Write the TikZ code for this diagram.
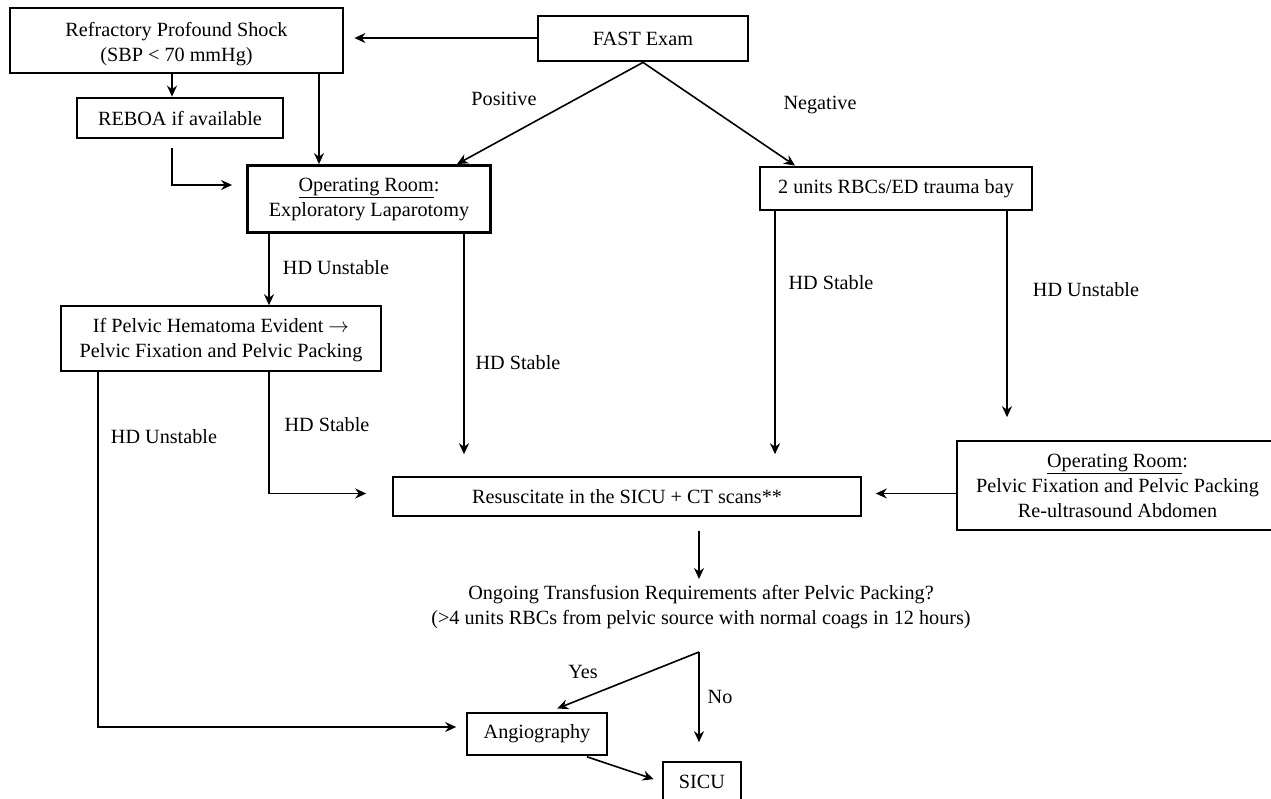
\documentclass[tikz,border=0pt]{standalone}
\usepackage{fontspec}
\setmainfont{Liberation Serif}
\usetikzlibrary{arrows.meta}
\begin{document}
\begin{tikzpicture}[x=1pt,y=-1pt,
  every node/.style={font=\fontsize{20.2}{25}\selectfont},
  thickbox/.style={draw, line width=2.8pt, align=center, inner sep=0pt},
  thinbox/.style={draw, line width=1.6pt, align=center, inner sep=0pt},
  arr/.style={-{Stealth[length=11pt,width=10pt]}, line width=1.6pt},
  lbl/.style={inner sep=0pt}]
\useasboundingbox (0,0) rectangle (1271,798);
% boxes
\node[thickbox, minimum width=333pt, minimum height=65pt] (ref) at (176.5,40.5) {\raisebox{-9pt}[0pt][0pt]{\begin{tabular}{@{}c@{}}Refractory Profound Shock\\(SBP \textless{} 70 mmHg)\end{tabular}}};
\node[thickbox, minimum width=210pt, minimum height=45pt] (fast) at (643,38.5) {FAST Exam};
\node[thickbox, minimum width=206pt, minimum height=40pt] (reboa) at (180,118) {REBOA if available};
\node[thickbox, minimum width=243pt, minimum height=67pt] (or1) at (369,199) {\underline{Operating Room}:\\Exploratory Laparotomy};
\node[thickbox, minimum width=272pt, minimum height=43pt] (rbc) at (896,188.5) {2 units RBCs/ED trauma bay};
\node[thinbox, minimum width=320pt, minimum height=65pt] (pel) at (221,338.5) {\raisebox{-6.5pt}[0pt][0pt]{\begin{tabular}{@{}c@{}}If Pelvic Hematoma Evident $\rightarrow$\\Pelvic Fixation and Pelvic Packing\end{tabular}}};
\node[thinbox, minimum width=468pt, minimum height=39pt] (res) at (627,496.5) {Resuscitate in the SICU + CT scans**};
\node[thinbox, minimum width=321pt, minimum height=89pt] (or2) at (1117.5,485.5) {\underline{Operating Room}:\\Pelvic Fixation and Pelvic Packing\\Re-ultrasound Abdomen};
\node[align=center, inner sep=0pt] (ong) at (701,607) {Ongoing Transfusion Requirements after Pelvic Packing?\\(\textgreater{}4 units RBCs from pelvic source with normal coags in 12 hours)};
\node[thinbox, minimum width=140pt, minimum height=42pt] (angio) at (537,734) {Angiography};
\node[thinbox, minimum width=78pt, minimum height=40pt] (sicu) at (702,782) {SICU};
% connectors
\draw[arr, shorten >=10pt] (fast.west |- 0,38) -- (ref.east |- 0,38);
\coordinate (r1) at ([xshift=-4.5pt]ref.south);
\draw[arr] (r1) -- (r1 |- reboa.north);
\coordinate (r2) at ([xshift=142.5pt]ref.south);
\draw[arr] (r2) -- (r2 |- or1.north);
\draw[arr, shorten <=9pt, shorten >=14pt] ([xshift=-8pt]reboa.south) |- ([yshift=14pt]or1.west);
\draw[arr] (fast.south) -- ([xshift=88pt]or1.north);
\draw[arr] (fast.south) -- ([xshift=-101pt]rbc.north);
\coordinate (o1) at ([xshift=-100pt]or1.south);
\draw[arr] (o1) -- (o1 |- pel.north);
\coordinate (o2) at ([xshift=95pt]or1.south);
\draw[arr, shorten >=22pt] (o2) -- (o2 |- res.north);
\draw[arr, shorten >=26pt] ([xshift=48pt]pel.south) |- ([yshift=3pt]res.west);
\draw[arr, shorten >=10pt] ([xshift=-123pt]pel.south) |- ([yshift=7pt]angio.west);
\coordinate (b1) at ([xshift=-121pt]rbc.south);
\draw[arr, shorten >=22pt] (b1) -- (b1 |- res.north);
\coordinate (b2) at ([xshift=111pt]rbc.south);
\draw[arr, shorten >=23pt] (b2) -- (b2 |- or2.north);
\draw[arr, shorten >=14pt] ([yshift=3pt]or2.west |- res.east) -- ([yshift=3pt]res.east);
\coordinate (c1) at ([xshift=72pt]res.south);
\draw[arr, shorten <=14pt, shorten >=6pt] (c1) -- (c1 |- ong.north);
\coordinate (fork) at (699,652);
\draw[arr, shorten >=10pt] (fork) -- ([xshift=11pt]angio.north);
\draw[arr, shorten >=19pt] (fork) -- (fork |- sicu.north);
\draw[arr, shorten <=3pt, shorten >=9pt] ([xshift=47pt]angio.south) -- (sicu.west);
% labels
\node[lbl] (l1) at (504,99) {Positive};
\node[lbl] (l2) at (820,105) {Negative};
\node[lbl] (l3) at (336,268) {HD Unstable};
\node[lbl] (l4) at (518,363) {HD Stable};
\node[lbl] (l5) at (327,425) {HD Stable};
\node[lbl] (l6) at (164,437) {HD Unstable};
\node[lbl] (l7) at (831,283) {HD Stable};
\node[lbl] (l8) at (1086,290) {HD Unstable};
\node[lbl] (l9) at (583,672) {Yes};
\node[lbl] (l10) at (720,697) {No};
\end{tikzpicture}
\end{document}
